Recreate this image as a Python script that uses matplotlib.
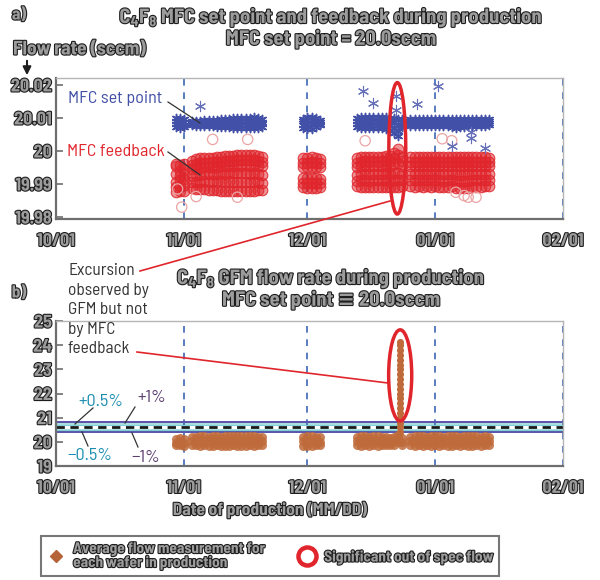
import matplotlib
matplotlib.use("Agg")
import matplotlib.pyplot as plt
from matplotlib import patheffects as pe
from matplotlib.patches import Ellipse, FancyArrowPatch
from matplotlib.lines import Line2D
from matplotlib.colors import to_rgba

plt.rcParams['font.family'] = ['Barlow Semi Condensed', 'DejaVu Sans']
plt.rcParams['mathtext.fontset'] = 'custom'
plt.rcParams['mathtext.rm'] = 'Barlow Semi Condensed:bold'
plt.rcParams['mathtext.default'] = 'rm'

# x axis: days counted from 10/01
tick_days = [0, 31, 61, 92, 123]
tick_labels = ['10/01', '11/01', '12/01', '01/01', '02/01']

# production days (one row of readings per day)
prod_days = [29, 30, 31,
             33, 34, 35, 36, 37, 38, 39, 40, 41, 42, 43, 44, 45, 46, 47, 48, 49, 50,
             60, 61, 62, 63, 64,
             73, 74, 75, 76, 77, 78, 79, 80, 81, 82, 83, 84,
             86, 87, 88, 89, 90, 91, 92, 93, 94, 95, 96, 97, 98, 99, 100, 101, 102, 103, 104, 105]

# MFC set point readings (sccm)
setpoint = [
    (20.0101, 20.0092, 20.0083, 20.0073), (20.0099, 20.0090, 20.0081, 20.0071), (20.0096, 20.0089, 20.0080, 20.0074),
    (20.0090, 20.0086, 20.0082, 20.0078), (20.0091, 20.0087, 20.0082, 20.0077), (20.0092, 20.0087, 20.0081, 20.0076),
    (20.0093, 20.0088, 20.0082, 20.0076), (20.0093, 20.0087, 20.0081, 20.0075), (20.0094, 20.0088, 20.0081, 20.0075),
    (20.0095, 20.0088, 20.0080, 20.0074), (20.0096, 20.0089, 20.0081, 20.0073), (20.0097, 20.0089, 20.0080, 20.0072),
    (20.0098, 20.0090, 20.0081, 20.0072), (20.0099, 20.0090, 20.0080, 20.0071), (20.0100, 20.0091, 20.0081, 20.0071),
    (20.0100, 20.0090, 20.0080, 20.0070), (20.0101, 20.0091, 20.0080, 20.0070), (20.0101, 20.0090, 20.0080, 20.0069),
    (20.0102, 20.0091, 20.0081, 20.0070), (20.0100, 20.0090, 20.0080, 20.0071), (20.0097, 20.0089, 20.0081, 20.0074),
    (20.0098, 20.0090, 20.0080, 20.0070), (20.0104, 20.0094, 20.0082, 20.0068), (20.0103, 20.0093, 20.0081, 20.0067),
    (20.0099, 20.0090, 20.0081, 20.0072), (20.0094, 20.0088, 20.0083, 20.0078),
    (20.0100, 20.0091, 20.0081, 20.0072), (20.0103, 20.0093, 20.0081, 20.0069), (20.0103, 20.0092, 20.0080, 20.0069),
    (20.0102, 20.0092, 20.0081, 20.0070), (20.0103, 20.0093, 20.0080, 20.0069), (20.0102, 20.0091, 20.0080, 20.0070),
    (20.0103, 20.0092, 20.0081, 20.0069), (20.0102, 20.0092, 20.0080, 20.0068), (20.0101, 20.0090, 20.0078, 20.0064),
    (20.0100, 20.0088, 20.0070, 20.0055), (20.0098, 20.0080, 20.0060, 20.0045), (20.0097, 20.0089, 20.0080, 20.0072),
    (20.0097, 20.0090, 20.0083, 20.0076), (20.0098, 20.0090, 20.0083, 20.0076), (20.0097, 20.0091, 20.0084, 20.0077),
    (20.0098, 20.0090, 20.0083, 20.0076), (20.0097, 20.0090, 20.0084, 20.0077), (20.0097, 20.0091, 20.0083, 20.0076),
    (20.0098, 20.0090, 20.0083, 20.0076), (20.0097, 20.0090, 20.0084, 20.0077), (20.0098, 20.0091, 20.0083, 20.0076),
    (20.0097, 20.0090, 20.0083, 20.0075), (20.0098, 20.0090, 20.0082, 20.0073), (20.0097, 20.0089, 20.0081, 20.0071),
    (20.0098, 20.0090, 20.0082, 20.0072), (20.0097, 20.0090, 20.0082, 20.0073), (20.0098, 20.0090, 20.0083, 20.0075),
    (20.0097, 20.0091, 20.0084, 20.0077), (20.0098, 20.0090, 20.0083, 20.0076), (20.0097, 20.0090, 20.0084, 20.0077),
    (20.0097, 20.0091, 20.0083, 20.0076), (20.0096, 20.0090, 20.0084, 20.0078),
]
sp_out_days = [34.9, 74.6, 76.8, 82.6, 82.6, 87.6, 92.7, 100.7, 100.7, 96.0, 104.0]
sp_out_vals = [20.0136, 20.0183, 20.0145, 20.0166, 20.0124, 20.0142, 20.0196, 20.0058, 20.0040, 20.0016, 20.0010]

# MFC feedback readings (sccm)
feedback = [
    (19.9955, 19.9930, 19.9905, 19.9890, 19.9875, 19.9960), (19.9958, 19.9940, 19.9912, 19.9893, 19.9878, 19.9925),
    (19.9962, 19.9945, 19.9915, 19.9898, 19.9880, 19.9930),
    (19.9970, 19.9958, 19.9945, 19.9925, 19.9905, 19.9888), (19.9975, 19.9960, 19.9947, 19.9926, 19.9906, 19.9886),
    (19.9978, 19.9963, 19.9949, 19.9928, 19.9907, 19.9885), (19.9980, 19.9965, 19.9950, 19.9930, 19.9908, 19.9884),
    (19.9978, 19.9964, 19.9950, 19.9929, 19.9906, 19.9882), (19.9980, 19.9966, 19.9951, 19.9931, 19.9909, 19.9883),
    (19.9982, 19.9967, 19.9952, 19.9930, 19.9907, 19.9881), (19.9983, 19.9968, 19.9953, 19.9932, 19.9908, 19.9880),
    (19.9984, 19.9969, 19.9954, 19.9931, 19.9906, 19.9879), (19.9985, 19.9970, 19.9955, 19.9932, 19.9908, 19.9880),
    (19.9986, 19.9971, 19.9956, 19.9933, 19.9907, 19.9879), (19.9987, 19.9972, 19.9957, 19.9932, 19.9906, 19.9878),
    (19.9988, 19.9972, 19.9956, 19.9933, 19.9907, 19.9879), (19.9988, 19.9973, 19.9957, 19.9932, 19.9905, 19.9878),
    (19.9987, 19.9972, 19.9956, 19.9931, 19.9906, 19.9879), (19.9988, 19.9973, 19.9957, 19.9932, 19.9906, 19.9880),
    (19.9986, 19.9971, 19.9955, 19.9930, 19.9905, 19.9881), (19.9983, 19.9968, 19.9953, 19.9928, 19.9904, 19.9883),
    (19.9978, 19.9963, 19.9950, 19.9918, 19.9903, 19.9890), (19.9980, 19.9965, 19.9951, 19.9919, 19.9903, 19.9889),
    (19.9981, 19.9966, 19.9952, 19.9918, 19.9902, 19.9888), (19.9980, 19.9965, 19.9951, 19.9917, 19.9903, 19.9889),
    (19.9977, 19.9963, 19.9950, 19.9915, 19.9902, 19.9892),
    (19.9978, 19.9965, 19.9952, 19.9928, 19.9910, 19.9893), (19.9982, 19.9968, 19.9954, 19.9930, 19.9911, 19.9892),
    (19.9983, 19.9969, 19.9955, 19.9931, 19.9912, 19.9891), (19.9982, 19.9968, 19.9954, 19.9930, 19.9910, 19.9891),
    (19.9983, 19.9969, 19.9955, 19.9931, 19.9911, 19.9892), (19.9982, 19.9968, 19.9954, 19.9930, 19.9912, 19.9891),
    (19.9983, 19.9969, 19.9955, 19.9931, 19.9911, 19.9892), (19.9984, 19.9970, 19.9956, 19.9932, 19.9912, 19.9890),
    (19.9986, 19.9971, 19.9955, 19.9931, 19.9910, 19.9891), (19.9995, 19.9980, 19.9960, 19.9932, 19.9911, 19.9892),
    (20.0005, 19.9988, 19.9965, 19.9933, 19.9912, 19.9891), (19.9983, 19.9969, 19.9955, 19.9931, 19.9911, 19.9893),
    (19.9981, 19.9967, 19.9954, 19.9930, 19.9912, 19.9893), (19.9982, 19.9968, 19.9954, 19.9931, 19.9911, 19.9892),
    (19.9981, 19.9967, 19.9953, 19.9930, 19.9912, 19.9893), (19.9982, 19.9968, 19.9954, 19.9931, 19.9911, 19.9892),
    (19.9981, 19.9967, 19.9953, 19.9930, 19.9912, 19.9893), (19.9982, 19.9968, 19.9954, 19.9931, 19.9911, 19.9892),
    (19.9981, 19.9967, 19.9953, 19.9930, 19.9912, 19.9893), (19.9982, 19.9968, 19.9954, 19.9931, 19.9911, 19.9891),
    (19.9981, 19.9967, 19.9953, 19.9930, 19.9910, 19.9890), (19.9982, 19.9968, 19.9954, 19.9931, 19.9911, 19.9892),
    (19.9981, 19.9967, 19.9953, 19.9930, 19.9912, 19.9893), (19.9982, 19.9968, 19.9954, 19.9929, 19.9909, 19.9889),
    (19.9981, 19.9967, 19.9953, 19.9928, 19.9908, 19.9887), (19.9982, 19.9968, 19.9954, 19.9929, 19.9909, 19.9888),
    (19.9981, 19.9967, 19.9953, 19.9930, 19.9910, 19.9889), (19.9982, 19.9968, 19.9954, 19.9931, 19.9911, 19.9890),
    (19.9981, 19.9967, 19.9953, 19.9930, 19.9912, 19.9892), (19.9982, 19.9968, 19.9954, 19.9931, 19.9911, 19.9892),
    (19.9981, 19.9967, 19.9953, 19.9930, 19.9912, 19.9893), (19.9980, 19.9966, 19.9953, 19.9930, 19.9912, 19.9894),
]
fb_out_days = [30.5, 29.5, 38.0, 46.5, 75.0, 93.7, 96.0, 97.0, 100.0, 101.9, 99.0, 34.0, 44.0]
fb_out_vals = [19.9830, 19.9885, 20.0035, 20.0035, 20.0031, 20.0037, 20.0031, 19.9875, 19.9860, 19.9860, 19.9865, 19.9862, 19.9860]

# GFM average flow per wafer (sccm)
gfm = [
    (20.10, 19.95, 19.85), (20.15, 20.00, 19.88), (20.12, 19.96, 19.84),
    (20.20, 20.02, 19.86), (20.22, 20.03, 19.85), (20.23, 20.04, 19.84), (20.24, 20.05, 19.85),
    (20.22, 20.03, 19.83), (20.23, 20.02, 19.84), (20.24, 20.04, 19.85), (20.22, 20.03, 19.84),
    (20.25, 20.05, 19.83), (20.24, 20.04, 19.84), (20.23, 20.03, 19.85), (20.25, 20.05, 19.84),
    (20.24, 20.04, 19.83), (20.23, 20.03, 19.84), (20.25, 20.05, 19.85), (20.24, 20.04, 19.84),
    (20.22, 20.03, 19.85), (20.20, 20.02, 19.87),
    (20.22, 20.02, 19.84), (20.24, 20.04, 19.83), (20.23, 20.03, 19.84), (20.22, 20.02, 19.85),
    (20.18, 20.00, 19.88),
    (20.20, 20.02, 19.86), (20.23, 20.04, 19.84), (20.24, 20.05, 19.85), (20.22, 20.03, 19.84),
    (20.23, 20.02, 19.85), (20.24, 20.04, 19.84), (20.22, 20.03, 19.85), (20.18, 20.00, 19.86),
    (20.15, 19.98, 19.88), (20.20, 20.02, 19.86), (20.30, 20.15, 20.00), (20.15, 20.00, 19.88),
    (20.22, 20.03, 19.85), (20.24, 20.04, 19.84), (20.23, 20.03, 19.85), (20.24, 20.05, 19.84),
    (20.22, 20.03, 19.85), (20.23, 20.04, 19.84), (20.24, 20.03, 19.85), (20.23, 20.04, 19.84),
    (20.22, 20.03, 19.85), (20.24, 20.05, 19.84), (20.23, 20.04, 19.83), (20.24, 20.03, 19.85),
    (20.22, 20.04, 19.84), (20.23, 20.03, 19.85), (20.24, 20.05, 19.84), (20.23, 20.04, 19.83),
    (20.24, 20.03, 19.85), (20.22, 20.04, 19.84), (20.23, 20.03, 19.85), (20.20, 20.02, 19.86),
]
spike_day = 83.4
spike_vals = [20.4, 20.6, 20.8, 21.0, 21.2, 21.4, 21.6, 21.8, 22.0, 22.2, 22.4, 22.6,
              22.8, 23.0, 23.2, 23.4, 23.6, 23.8, 24.0, 24.15]

spec_center = 20.6
spec_half = [0.5, 1.0]   # percent bands

BLUE = '#4250a8'
RED = '#e0262c'
BROWN = '#bf6a3a'
DASH = '#3b66b3'
TEAL = '#1b8db0'
PURPLE = '#5b3d6e'
OUTLINE = [pe.Stroke(linewidth=1.6, foreground='#1e1e1e'), pe.Normal()]
GRAYTXT = '#9c9c9c'


def px(x, y):
    return x / 600, 1 - y / 580


def flat(days, rows):
    xs, ys = [], []
    for d, r in zip(days, rows):
        for v in r:
            xs.append(d)
            ys.append(v)
    return xs, ys


def style_axes(ax):
    ax.set_xlim(tick_days[0], tick_days[-1])
    ax.set_xticks(tick_days)
    ax.set_xticklabels(tick_labels)
    for d in tick_days[1:]:
        ax.axvline(d, color=DASH, ls=(0, (4, 4)), lw=1.2, zorder=1)
    for s in ['left', 'bottom']:
        ax.spines[s].set_color('#6e6e6e')
        ax.spines[s].set_linewidth(1.6)
    for s in ['top', 'right']:
        ax.spines[s].set_color('#b5b5b5')
        ax.spines[s].set_linewidth(1.0)
    ax.tick_params(axis='x', length=0, pad=10, labelsize=13)
    ax.tick_params(axis='y', direction='in', length=5, width=1.2, color='#6e6e6e', pad=3, labelsize=13)
    for lbl in ax.get_xticklabels() + ax.get_yticklabels():
        lbl.set_fontweight('bold')
        lbl.set_color(GRAYTXT)
        lbl.set_path_effects(OUTLINE)


fig = plt.figure(figsize=(6, 5.8), dpi=100)
ax_a = fig.add_axes([56 / 600, 1 - 219 / 580, 507 / 600, 141 / 580])
ax_b = fig.add_axes([56 / 600, 1 - 466 / 580, 507 / 600, 145 / 580])

# ---- panel a
fx, fy = flat(prod_days, feedback)
ax_a.scatter(fx, fy, s=58, facecolors=to_rgba(RED, 0.5), edgecolors=to_rgba(RED, 0.85), linewidths=0.8, zorder=2)
ax_a.scatter(fb_out_days, fb_out_vals, s=55, facecolors='none', edgecolors='#eba5a5', linewidths=0.9, zorder=2)
sx, sy = flat(prod_days, setpoint)
ax_a.scatter(sx, sy, s=34, marker=(6, 2, 0), color=BLUE, linewidths=1.1, zorder=3)
ax_a.scatter(sp_out_days, sp_out_vals, s=55, marker=(6, 2, 0), color='#6570b8', linewidths=0.8, zorder=3)
ax_a.set_ylim(19.9794, 20.0221)
ax_a.set_yticks([19.98, 19.99, 20.0, 20.01, 20.02])
ax_a.set_yticklabels(['19.98', '19.99', '20', '20.01', '20.02'])
style_axes(ax_a)
ax_a.add_patch(Ellipse((82.8, 20.0008), 4.1, 0.0398, fill=False, ec=RED, lw=2.5, zorder=6))

# ---- panel b
lo1, hi1 = spec_center * (1 - spec_half[1] / 100), spec_center * (1 + spec_half[1] / 100)
lo05, hi05 = spec_center * (1 - spec_half[0] / 100), spec_center * (1 + spec_half[0] / 100)
ax_b.axhspan(lo1, hi1, color='#abdfe0', lw=0, zorder=1)
ax_b.axhline(hi1, color='#5a52aa', lw=1.4, zorder=2)
ax_b.axhline(lo1, color='#5a52aa', lw=1.4, zorder=2)
ax_b.axhline(hi05, color='#7fcfd2', lw=0.8, zorder=2)
ax_b.axhline(lo05, color='#7fcfd2', lw=0.8, zorder=2)
ax_b.axhline(spec_center, color='white', lw=2.2, zorder=2)
ax_b.axhline(spec_center, color='#1a1a1a', lw=2.0, ls=(0, (3, 2)), zorder=2)
gx, gy = flat(prod_days, gfm)
ax_b.scatter(gx, gy, s=42, color=BROWN, alpha=0.85, lw=0, zorder=3)
ax_b.scatter([spike_day] * len(spike_vals), spike_vals, s=26, color=BROWN, lw=0, zorder=3)
ax_b.set_ylim(19, 25)
ax_b.set_yticks([19, 20, 21, 22, 23, 24, 25])
style_axes(ax_b)
ax_b.add_patch(Ellipse((83.5, 22.75), 5.6, 3.77, fill=False, ec=RED, lw=2.5, zorder=6))


# ---- texts
def gtext(x, y, s, size=13, ha='center'):
    t = fig.text(*px(x, y), s, ha=ha, va='center', fontsize=size, fontweight='bold', color=GRAYTXT)
    t.set_path_effects(OUTLINE)
    return t


gtext(19, 15, 'a)', 12.5)
gtext(331, 17, r'C$_{4}$F$_{8}$ MFC set point and feedback during production', 14.8)
gtext(331, 39, 'MFC set point = 20.0sccm', 14.8)
gtext(13, 50, 'Flow rate (sccm)', 14, ha='left')
fig.add_artist(FancyArrowPatch(px(27, 58), px(27, 78), transform=fig.transFigure,
                               arrowstyle='-|>', mutation_scale=12, color='#1e1e1e', lw=1.5))
gtext(19, 293, 'b)', 12.5)
gtext(331, 278, r'C$_{4}$F$_{8}$ GFM flow rate during production', 14.8)
gtext(331, 300, 'MFC set point \u2261 20.0sccm', 14.8)
gtext(270, 510, 'Date of production (MM/DD)', 12.5)

fig.text(*px(68, 99), 'MFC set point', color=BLUE, fontsize=13, ha='left', va='center')
fig.text(*px(67, 151), 'MFC feedback', color=RED, fontsize=13, ha='left', va='center')
fig.text(*px(68, 263), 'Excursion\nobserved by\nGFM but not\nby MFC\nfeedback', color='#333333',
         fontsize=12.5, ha='left', va='top', linespacing=1.38)
fig.text(*px(101, 402), '+0.5%', color=TEAL, fontsize=13, ha='center', va='center')
fig.text(*px(152, 398), '+1%', color=PURPLE, fontsize=13, ha='center', va='center')
fig.text(*px(90, 455), '\u22120.5%', color=TEAL, fontsize=13, ha='center', va='center')
fig.text(*px(146, 458), '\u22121%', color=PURPLE, fontsize=13, ha='center', va='center')


def fline(p0, p1, color='#333333', lw=0.9):
    (x0, y0), (x1, y1) = px(*p0), px(*p1)
    fig.add_artist(Line2D([x0, x1], [y0, y1], transform=fig.transFigure, color=color, lw=lw, zorder=7))


fline((168, 102), (200, 123))
fline((168, 152), (200, 175))
fline((93, 408), (75, 424))
fline((135, 407), (125, 423))
fline((88, 446), (82, 432))
fline((138, 447), (132, 433))
fline((140, 271), (390, 201), color=RED, lw=1.2)
fline((137, 352), (388, 383), color=RED, lw=1.2)

# ---- legend
handles = [Line2D([], [], marker='D', ls='', color='#b5643a', ms=6,
                  label='Average flow measurement for\neach wafer in production'),
           Line2D([], [], marker='o', ls='', mfc='white', mec=RED, mew=3.2, ms=13,
                  label='Significant out of spec flow')]
leg = fig.legend(handles=handles, ncol=2, loc='center', bbox_to_anchor=px(270, 556),
                 frameon=True, fancybox=False, edgecolor='#555555',
                 prop=dict(weight='bold', size=11), handletextpad=0.5, columnspacing=2.2,
                 borderpad=0.4, handlelength=1.2, labelspacing=0.2)
leg.get_frame().set_linewidth(1.5)
for t in leg.get_texts():
    t.set_color(GRAYTXT)
    t.set_path_effects(OUTLINE)
    t.set_linespacing(1.0)

fig.savefig('out.png', dpi=100)
